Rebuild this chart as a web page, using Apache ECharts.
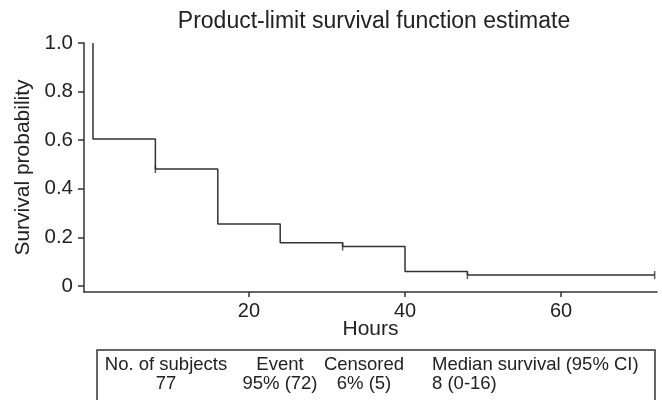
<!DOCTYPE html>
<html>
<head>
<meta charset="utf-8">
<script src="https://cdn.jsdelivr.net/npm/echarts@6.0.0/dist/echarts.min.js"></script>
<style>
  html, body { margin: 0; padding: 0; background: #fff; }
  #chart { width: 662px; height: 400px; }
</style>
</head>
<body>
<div id="chart"></div>
<script>
// Kaplan-Meier step data (time in hours, survival probability after that time)
const times = [0, 0, 8, 16, 24, 32, 40, 48, 72];
const survival = [1.0, 0.605, 0.481, 0.255, 0.178, 0.162, 0.059, 0.045, 0.045];
// Censored observations
const censorTimes = [8, 32, 48, 72];
const censorSurvival = [0.481, 0.162, 0.045, 0.045];
// Axis ticks
const xTicks = [20, 40, 60];
const yTicks = [0, 0.2, 0.4, 0.6, 0.8, 1.0];
// Summary table
const tableHeader = ['No. of subjects', 'Event', 'Censored', 'Median survival (95% CI)'];
const tableRow = ['77', '95% (72)', '6% (5)', '8 (0-16)'];

const FONT = '"Liberation Sans", Arial, Helvetica, sans-serif';
const INK = '#222';
const LINE = '#333';

const chart = echarts.init(document.getElementById('chart'), null, { renderer: 'canvas' });

const colX = [166, 280, 364, 432];
const colAlign = ['center', 'center', 'center', 'left'];
const tableTexts = [];
tableHeader.forEach((t, i) => {
  tableTexts.push({
    type: 'text', x: colX[i], y: 365,
    style: { text: t, font: '18.5px ' + FONT, fill: INK, align: colAlign[i], verticalAlign: 'middle' }
  });
});
tableRow.forEach((t, i) => {
  tableTexts.push({
    type: 'text', x: colX[i], y: 384,
    style: { text: t, font: '18.5px ' + FONT, fill: INK, align: colAlign[i], verticalAlign: 'middle' }
  });
});

const option = {
  animation: false,
  backgroundColor: '#fff',
  title: {
    text: 'Product-limit survival function estimate',
    left: 369, top: 5, textAlign: 'center',
    textStyle: { fontFamily: FONT, fontSize: 23, fontWeight: 'normal', color: INK }
  },
  grid: { left: 84, right: 5, top: 43, bottom: 108, containLabel: false, outerBoundsMode: 'none' },
  xAxis: {
    type: 'value', min: -1.15, max: 72.3,
    name: 'Hours', nameLocation: 'middle', nameGap: 27, nameMoveOverlap: false,
    nameTextStyle: { fontFamily: FONT, fontSize: 21, color: INK },
    axisLine: { show: true, onZero: false, lineStyle: { color: LINE, width: 1.5 } },
    axisTick: { show: true, customValues: xTicks, length: 5, lineStyle: { color: LINE, width: 1.5 } },
    axisLabel: { customValues: xTicks, fontFamily: FONT, fontSize: 20, color: INK, margin: 9 },
    splitLine: { show: false }
  },
  yAxis: {
    type: 'value', min: -0.025, max: 1.0,
    name: 'Survival probability', nameLocation: 'middle', nameGap: 50, nameRotate: 90, nameMoveOverlap: false,
    nameTextStyle: { fontFamily: FONT, fontSize: 21, color: INK },
    axisLine: { show: true, onZero: false, lineStyle: { color: LINE, width: 1.5 } },
    axisTick: { show: true, customValues: yTicks, length: 6, lineStyle: { color: LINE, width: 1.5 } },
    axisLabel: {
      customValues: yTicks, fontFamily: FONT, fontSize: 20.5, color: INK, margin: 11,
      formatter: v => (Math.abs(v) < 1e-9 ? '0' : v.toFixed(1))
    },
    splitLine: { show: false }
  },
  series: [
    {
      type: 'line', step: 'end', symbol: 'none',
      data: times.map((t, i) => [t, survival[i]]),
      lineStyle: { color: LINE, width: 1.5 },
      silent: true
    },
    {
      type: 'scatter', symbol: 'rect', symbolSize: [1.5, 8],
      data: censorTimes.map((t, i) => [t, censorSurvival[i]]),
      itemStyle: { color: LINE },
      silent: true
    }
  ],
  graphic: [
    {
      type: 'rect', shape: { x: 97, y: 350, width: 558, height: 70 },
      style: { fill: 'none', stroke: LINE, lineWidth: 1.5 }
    }
  ].concat(tableTexts)
};

chart.setOption(option);
</script>
</body>
</html>
